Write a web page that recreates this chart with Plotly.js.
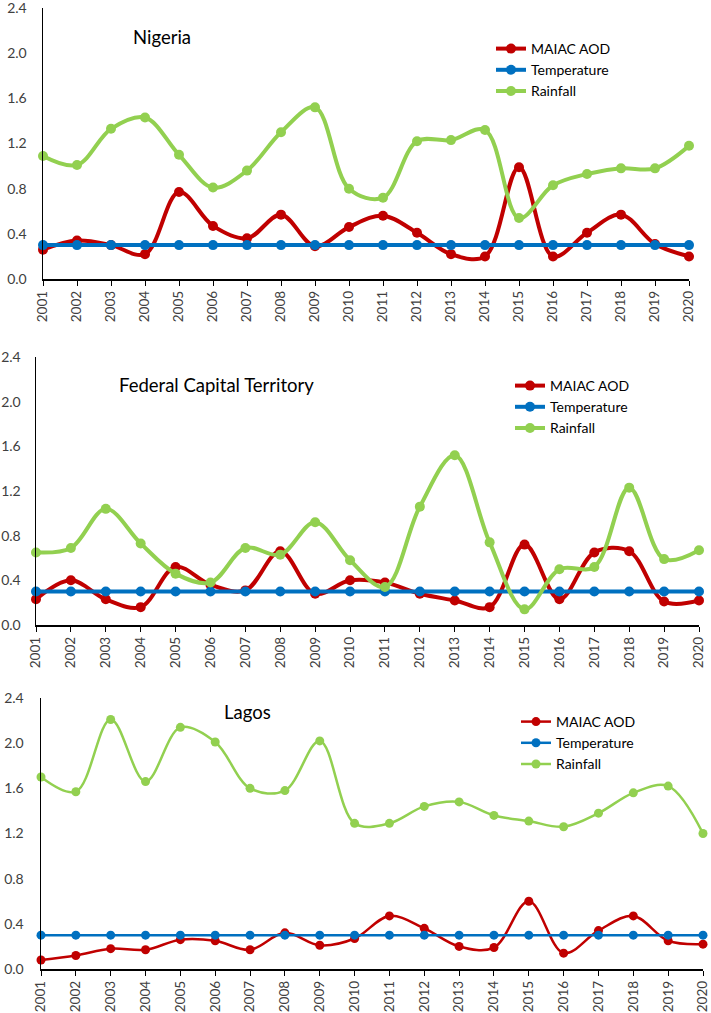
<!DOCTYPE html>
<html>
<head>
<meta charset="utf-8">
<script src="https://cdn.plot.ly/plotly-3.0.1.min.js"></script>
<style>html,body{margin:0;padding:0;background:#fff;}#chart{width:711px;height:1013px;}</style>
</head>
<body>
<div id="chart"></div>
<script>
const years = [2001,2002,2003,2004,2005,2006,2007,2008,2009,2010,2011,2012,2013,2014,2015,2016,2017,2018,2019,2020];
const yearLabels = years.map(String);
const yTicks = [0, 0.4, 0.8, 1.2, 1.6, 2.0, 2.4];
const seriesNames = ["MAIAC AOD", "Temperature", "Rainfall"];
const panelTitles = ["Nigeria", "Federal Capital Territory", "Lagos"];

const nigeriaAOD  = [0.26,0.34,0.30,0.22,0.77,0.47,0.36,0.57,0.29,0.46,0.56,0.41,0.22,0.20,0.99,0.20,0.41,0.57,0.31,0.20];
const nigeriaTemp = [0.30,0.30,0.30,0.30,0.30,0.30,0.30,0.30,0.30,0.30,0.30,0.30,0.30,0.30,0.30,0.30,0.30,0.30,0.30,0.30];
const nigeriaRain = [1.09,1.01,1.33,1.43,1.10,0.81,0.96,1.30,1.52,0.80,0.72,1.22,1.23,1.32,0.54,0.83,0.93,0.98,0.98,1.18];

const fctAOD  = [0.23,0.40,0.23,0.16,0.52,0.36,0.31,0.66,0.28,0.40,0.38,0.28,0.22,0.16,0.72,0.23,0.65,0.66,0.21,0.22];
const fctTemp = [0.30,0.30,0.30,0.30,0.30,0.30,0.30,0.30,0.30,0.30,0.30,0.30,0.30,0.30,0.30,0.30,0.30,0.30,0.30,0.30];
const fctRain = [0.65,0.69,1.04,0.73,0.46,0.38,0.69,0.63,0.92,0.58,0.34,1.06,1.52,0.74,0.14,0.50,0.52,1.23,0.59,0.67];

const lagosAOD  = [0.08,0.12,0.18,0.17,0.26,0.25,0.17,0.32,0.21,0.27,0.47,0.36,0.20,0.19,0.60,0.14,0.34,0.47,0.25,0.22];
const lagosTemp = [0.30,0.30,0.30,0.30,0.30,0.30,0.30,0.30,0.30,0.30,0.30,0.30,0.30,0.30,0.30,0.30,0.30,0.30,0.30,0.30];
const lagosRain = [1.70,1.57,2.21,1.66,2.14,2.01,1.60,1.58,2.02,1.29,1.29,1.44,1.48,1.36,1.31,1.26,1.38,1.56,1.62,1.20];

const colors = ["#C00000", "#0070C0", "#92D050"];
const H = 1013, W = 711;
const FONT = "Lato, Open Sans, sans-serif";
const tickColor = "#404040";

// panel geometry in pixels
const panels = [
  {data:[nigeriaAOD, nigeriaTemp, nigeriaRain], x0:43, x1:689, yb:279, yt:8,   lw:4,   ms:10, title:{x:162,y:37},  leg:{x:497,top:33},  standoff:12},
  {data:[fctAOD, fctTemp, fctRain],             x0:36, x1:699, yb:625, yt:357, lw:4,   ms:10, title:{x:216,y:385}, leg:{x:516,top:370}, standoff:11},
  {data:[lagosAOD, lagosTemp, lagosRain],       x0:41, x1:703, yb:969, yt:698, lw:2.5, ms:9,  title:{x:247,y:712}, leg:{x:522,top:706}, standoff:13}
];

const traces = [];
const layout = {
  width: W, height: H,
  margin: {l:0, r:0, t:0, b:0},
  paper_bgcolor: "#fff", plot_bgcolor: "#fff",
  font: {family: FONT, color: tickColor, size: 14},
  showlegend: true,
  annotations: []
};

panels.forEach((p, i) => {
  const n = i === 0 ? "" : String(i + 1);
  const legName = i === 0 ? "legend" : "legend" + (i + 1);
  p.data.forEach((vals, k) => {
    traces.push({
      type: "scatter", mode: "lines+markers",
      x: years, y: vals, name: seriesNames[k],
      xaxis: "x" + n, yaxis: "y" + n,
      legend: legName,
      line: {color: colors[k], width: p.lw, shape: "spline", smoothing: 1},
      marker: {color: colors[k], size: p.ms},
      cliponaxis: false,
      hoverinfo: "skip"
    });
  });
  layout["xaxis" + n] = {
    domain: [p.x0 / W, p.x1 / W],
    anchor: "y" + n,
    range: [2001, 2020],
    tickmode: "array", tickvals: years, ticktext: yearLabels,
    tickangle: -90,
    ticks: "outside", ticklen: 5, tickcolor: "#000", tickwidth: 1,
    showline: true, linecolor: "#000", linewidth: 1.5,
    showgrid: false, zeroline: false,
    ticklabeloverflow: "allow",
    tickfont: {family: FONT, size: 13.5, color: tickColor},
    fixedrange: true
  };
  layout["yaxis" + n] = {
    domain: [1 - p.yb / H, 1 - p.yt / H],
    anchor: "x" + n,
    range: [0, 2.4],
    tickmode: "array", tickvals: yTicks, ticktext: yTicks.map(v => v.toFixed(1)),
    ticks: "", showline: true, linecolor: "#000", linewidth: 1.5,
    showgrid: false, zeroline: false,
    ticklabelstandoff: p.standoff,
    ticklabeloverflow: "allow",
    tickfont: {family: FONT, size: 14, color: tickColor},
    fixedrange: true
  };
  layout[legName] = {
    x: (p.leg.x - 6) / W, xanchor: "left",
    y: 1 - p.leg.top / H, yanchor: "top",
    bgcolor: "rgba(0,0,0,0)",
    font: {family: FONT, size: 14, color: "#000"},
    traceorder: "normal",
    itemwidth: 30
  };
  layout.annotations.push({
    xref: "paper", yref: "paper",
    x: p.title.x / W, y: 1 - p.title.y / H,
    xanchor: "center", yanchor: "middle",
    text: panelTitles[i], showarrow: false,
    font: {family: FONT, size: 18.5, color: "#000"}
  });
});

Plotly.newPlot("chart", traces, layout, {displayModeBar: false, staticPlot: true});
</script>
</body>
</html>
